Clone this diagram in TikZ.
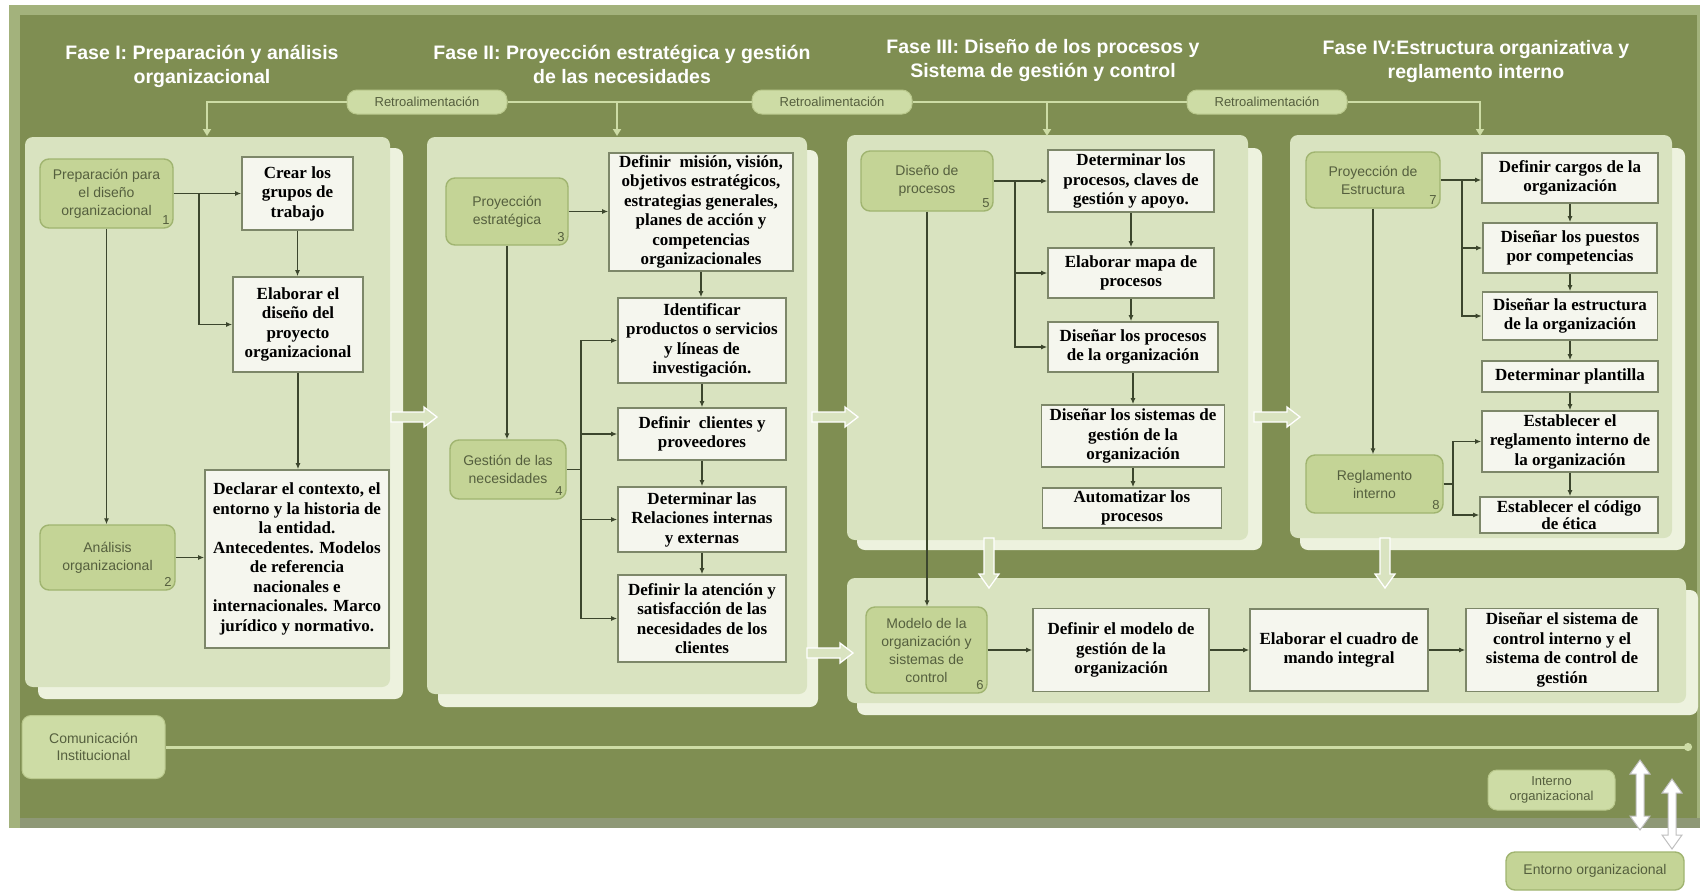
\documentclass[tikz,border=0pt]{standalone}
\usepackage{fontspec}
\setmainfont{Liberation Serif}
\newfontfamily\sansf{Liberation Sans}
\usetikzlibrary{arrows.meta,calc}

\definecolor{frameD}{RGB}{127,142,82}
\definecolor{frameL}{RGB}{163,178,124}
\definecolor{frameB}{RGB}{142,152,118}
\definecolor{panF}{RGB}{217,227,192}
\definecolor{panB}{RGB}{237,242,222}
\definecolor{gnF}{RGB}{196,212,150}
\definecolor{gnD}{RGB}{160,180,112}
\definecolor{wbF}{RGB}{245,246,238}
\definecolor{wbD}{RGB}{125,135,105}
\definecolor{lineC}{RGB}{60,70,45}
\definecolor{fbC}{RGB}{205,220,165}
\definecolor{fbD}{RGB}{185,200,140}
\definecolor{txtG}{RGB}{85,95,62}

\tikzset{
 wbox/.style={draw=wbD, line width=1.6pt, fill=wbF, inner sep=2pt, align=center,
   font=\fontsize{17}{19.5}\selectfont\bfseries},
 gnode/.style={draw=gnD, line width=1.4pt, fill=gnF, rounded corners=9pt, inner sep=2pt,
   align=center, text=txtG, font=\sansf\fontsize{14}{18}\selectfont},
 num/.style={anchor=south east, inner sep=4pt, text=txtG, font=\sansf\fontsize{13}{13}\selectfont},
 conn/.style={draw=lineC, line width=1.3pt, -{Latex[length=6pt,width=5pt]}},
 cline/.style={draw=lineC, line width=1.3pt},
 fb/.style={draw=fbC, line width=2.5pt},
 fbarr/.style={fb, -{Triangle[length=7pt,width=8pt]}},
 pill/.style={fill=fbC, draw=fbD, line width=1pt, rounded corners=10pt, minimum width=160pt,
   minimum height=24pt, inner sep=1pt, text=txtG, font=\sansf\fontsize{13}{13}\selectfont},
 lpill/.style={fill=fbC, draw=fbD, line width=1pt, rounded corners=9pt, inner sep=1pt,
   align=center, text=txtG, font=\sansf\fontsize{14}{17}\selectfont},
 title/.style={text=white, align=center, font=\sansf\bfseries\fontsize{19.5}{24}\selectfont},
 barr/.style={draw=white, line width=1.3pt, fill=panF},
 commline/.style={draw=fbC, line width=3pt, -{Circle[length=8pt]}},
 harr/.pic={\draw[barr] (0,-5) -- (33,-5) -- (33,-10) -- (46,0) -- (33,10) -- (33,5) -- (0,5) -- cycle;},
 varr/.pic={\draw[barr] (-5,0) -- (-5,36) -- (-10,36) -- (0,50) -- (10,36) -- (5,36) -- (5,0) -- cycle;},
 dvarr/.pic={\draw[draw=gray!50, fill=white, line width=1pt] (0,0) -- (-10,14) -- (-4,14) -- (-4,56) -- (-10,56) -- (0,70) -- (10,56) -- (4,56) -- (4,14) -- (10,14) -- cycle;},
}

\begin{document}
\begin{tikzpicture}[x=1pt,y=-1pt]
\useasboundingbox (0,0) rectangle (1706,892);
\fill[white] (0,0) rectangle (1706,892);
% outer frame
\fill[frameL] (9,5) rectangle (1700,828);
\fill[frameD] (20,15) rectangle (1697,818);
\fill[frameB] (20,818) rectangle (1700,828);

% panels
\fill[panB, rounded corners=8pt] (38,148) rectangle (403,699);
\fill[panF, rounded corners=8pt] (25,137) rectangle (390,687);
\fill[panB, rounded corners=8pt] (438,150) rectangle (818,707);
\fill[panF, rounded corners=8pt] (427,137) rectangle (807,694);
\fill[panB, rounded corners=8pt] (857,148) rectangle (1262,550);
\fill[panF, rounded corners=8pt] (847,135) rectangle (1248,540);
\fill[panB, rounded corners=8pt] (1300,148) rectangle (1685,550);
\fill[panF, rounded corners=8pt] (1290,135) rectangle (1672,538);
\fill[panB, rounded corners=8pt] (857,590) rectangle (1698,715);
\fill[panF, rounded corners=8pt] (847,578) rectangle (1686,703);

% titles
\node[title] (ti1) at (202,66) {Fase I: Preparación y análisis\\organizacional};
\node[title] (ti2) at (622,64) {Fase II: Proyección estratégica y gestión\\de las necesidades};
\node[title] (ti3) at (1043,60) {Fase III: Diseño de los procesos y\\Sistema de gestión y control};
\node[title] (ti4) at (1476,61) {Fase IV:Estructura organizativa y\\reglamento interno};

% feedback line
\node[pill] (r1) at (427,102) {Retroalimentación};
\node[pill] (r2) at (832,102) {Retroalimentación};
\node[pill] (r3) at (1267,102) {Retroalimentación};
\coordinate (d1) at (207,136);
\coordinate (j2) at (617,102);
\coordinate (d2) at (617,136);
\coordinate (j3) at (1047,102);
\coordinate (d3) at (1047,136);
\coordinate (d4) at (1480,136);
\draw[fbarr] (r1.west) -| (d1);
\draw[fb] (r1.east) -- (r2.west);
\draw[fb] (r2.east) -- (r3.west);
\draw[fbarr] (j2) -- (d2);
\draw[fbarr] (j3) -- (d3);
\draw[fbarr] (r3.east) -| (d4);

% block arrows between panels
\pic at (391,417) {harr};
\pic at (812,417) {harr};
\pic at (1254,417) {harr};
\pic at (807,653) {harr};
\pic at (989,538) {varr};
\pic at (1385,538) {varr};

% ---------- Fase I ----------
\node[gnode, minimum width=133pt, minimum height=69pt] (g1) at (106.5,193.5) {Preparación para\\el diseño\\organizacional};
\node[num] at (g1.south east) {1};
\node[gnode, minimum width=135pt, minimum height=65pt] (g2) at (107.5,557.5) {Análisis\\organizacional};
\node[num] at (g2.south east) {2};
\node[wbox, minimum width=111pt, minimum height=73pt] (b11) at (297.5,193.5) {Crear los\\grupos de\\trabajo};
\node[wbox, minimum width=130pt, minimum height=95pt] (b12) at (298,324.5) {Elaborar el\\diseño del\\proyecto\\organizacional};
\node[wbox, minimum width=184pt, minimum height=178pt] (b13) at (297,559) {Declarar el contexto, el\\entorno y la historia de\\la entidad.\\Antecedentes. Modelos\\de referencia\\nacionales e\\internacionales. Marco\\jurídico y normativo.};
\coordinate (t1) at (199,193.5);
\draw[conn] (g1.east) -- (b11.west);
\draw[conn] (t1) |- (b12.west);
\draw[conn] (b11.south) -- (b11.south |- b12.north);
\draw[conn] (b12.south) -- (b12.south |- b13.north);
\draw[conn] (g1.south) -- (g1.south |- g2.north);
\draw[conn] (g2.east) -- (g2.east -| b13.west);

% ---------- Fase II ----------
\node[gnode, minimum width=122pt, minimum height=67pt] (g3) at (507,211.5) {Proyección\\estratégica};
\node[num] at (g3.south east) {3};
\node[gnode, minimum width=116pt, minimum height=59pt] (g4) at (508,469.5) {Gestión de las\\necesidades};
\node[num] at (g4.south east) {4};
\node[wbox, minimum width=184pt, minimum height=118pt] (b21) at (701,212) {Definir \ misión, visión,\\objetivos estratégicos,\\estrategias generales,\\planes de acción y\\competencias\\organizacionales};
\node[wbox, minimum width=168pt, minimum height=85pt] (b22) at (702,340.5) {Identificar\\productos o servicios\\y líneas de\\investigación.};
\node[wbox, minimum width=168pt, minimum height=52pt] (b23) at (702,434) {Definir \ clientes y\\proveedores};
\node[wbox, minimum width=168pt, minimum height=65pt] (b24) at (702,519.5) {Determinar las\\Relaciones internas\\y externas};
\node[wbox, minimum width=168pt, minimum height=87pt] (b25) at (702,618.5) {Definir la atención y\\satisfacción de las\\necesidades de los\\clientes};
\draw[conn] (g3.east) -- (g3.east -| b21.west);
\draw[conn] (g3.south) -- (g3.south |- g4.north);
\coordinate (t2) at (581,469.5);
\draw[cline] (g4.east) -- (t2);
\draw[conn] (t2) |- (b22.west);
\draw[conn] (t2) |- (b23.west);
\draw[conn] (t2) |- (b24.west);
\draw[conn] (t2) |- (b25.west);
\draw[conn] (b21.south) -- (b21.south |- b22.north);
\draw[conn] (b22.south) -- (b22.south |- b23.north);
\draw[conn] (b23.south) -- (b23.south |- b24.north);
\draw[conn] (b24.south) -- (b24.south |- b25.north);

% ---------- Fase III ----------
\node[gnode, minimum width=132pt, minimum height=60pt] (g5) at (927,181) {Diseño de\\procesos};
\node[num] at (g5.south east) {5};
\node[wbox, minimum width=166pt, minimum height=62pt] (b31) at (1131,181) {Determinar los\\procesos, claves de\\gestión y apoyo.};
\node[wbox, minimum width=166pt, minimum height=50pt] (b32) at (1131,273) {Elaborar mapa de\\procesos};
\node[wbox, minimum width=170pt, minimum height=50pt] (b33) at (1133,347) {Diseñar los procesos\\de la organización};
\node[wbox, minimum width=183pt, minimum height=62pt] (b34) at (1133,436) {Diseñar los sistemas de\\gestión de la\\organización};
\node[wbox, minimum width=179pt, minimum height=40pt] (b35) at (1132,508) {Automatizar los\\procesos};
\draw[conn] (g5.east) -- (b31.west);
\coordinate (t3) at (1015,181);
\draw[conn] (t3) |- (b32.west);
\draw[conn] (t3) |- (b33.west);
\draw[conn] (b31.south) -- (b31.south |- b32.north);
\draw[conn] (b32.south) -- (b32.south |- b33.north);
\draw[conn] (b33.south) -- (b33.south |- b34.north);
\draw[conn] (b34.south) -- (b34.south |- b35.north);

% ---------- Bottom panel ----------
\node[gnode, minimum width=121pt, minimum height=86pt] (g6) at (926.5,650) {Modelo de la\\organización y\\sistemas de\\control};
\node[num] at (g6.south east) {6};
\node[wbox, minimum width=176pt, minimum height=83pt] (b41) at (1121,650) {Definir el modelo de\\gestión de la\\organización};
\node[wbox, minimum width=178pt, minimum height=82pt] (b42) at (1339,650) {Elaborar el cuadro de\\mando integral};
\node[wbox, minimum width=192pt, minimum height=83pt] (b43) at (1562,650) {Diseñar el sistema de\\control interno y el\\sistema de control de\\gestión};
\draw[conn] (g5.south) -- (g5.south |- g6.north);
\draw[conn] (g6.east) -- (b41.west);
\draw[conn] (b41.east) -- (b42.west);
\draw[conn] (b42.east) -- (b43.west);

% ---------- Fase IV ----------
\node[gnode, minimum width=134pt, minimum height=56pt] (g7) at (1373,180) {Proyección de\\Estructura};
\node[num] at (g7.south east) {7};
\node[gnode, minimum width=137pt, minimum height=58pt] (g8) at (1374.5,484) {Reglamento\\interno};
\node[num] at (g8.south east) {8};
\node[wbox, minimum width=176pt, minimum height=50pt] (b51) at (1570,178) {Definir cargos de la\\organización};
\node[wbox, minimum width=174pt, minimum height=50pt] (b52) at (1570,248) {Diseñar los puestos\\por competencias};
\node[wbox, minimum width=175pt, minimum height=48pt] (b53) at (1570,316) {Diseñar la estructura\\de la organización};
\node[wbox, minimum width=176pt, minimum height=31pt] (b54) at (1570,376.5) {Determinar plantilla};
\node[wbox, minimum width=176pt, minimum height=61pt] (b55) at (1570,441.5) {Establecer el\\reglamento interno de\\la organización};
\node[wbox, minimum width=178pt, minimum height=36pt, font=\fontsize{17}{17}\selectfont\bfseries, inner sep=1pt] (b56) at (1569,515) {Establecer el código\\de ética};
\draw[conn] (g7.east) -- (g7.east -| b51.west);
\coordinate (t4) at (1462,180);
\draw[conn] (t4) |- (b52.west);
\draw[conn] (t4) |- (b53.west);
\draw[conn] (b51.south) -- (b51.south |- b52.north);
\draw[conn] (b52.south) -- (b52.south |- b53.north);
\draw[conn] (b53.south) -- (b53.south |- b54.north);
\draw[conn] (b54.south) -- (b54.south |- b55.north);
\draw[conn] (b55.south) -- (b55.south |- b56.north);
\draw[conn] (g7.south) -- (g7.south |- g8.north);
\coordinate (t5) at (1453,484);
\draw[cline] (g8.east) -- (t5);
\draw[conn] (t5) |- (b55.west);
\draw[conn] (t5) |- (b56.west);

% ---------- bottom strip ----------
\node[lpill, minimum width=143pt, minimum height=63pt] (ci) at (93.5,747) {Comunicación\\Institucional};
\coordinate (ce) at (1692,747);
\draw[commline] (ci.east) -- (ce);
\node[lpill, minimum width=127pt, minimum height=40pt, font=\sansf\fontsize{13}{15}\selectfont] (io) at (1551.5,790) {Interno\\organizacional};
\node[lpill, fill=gnF, draw=gnD, line width=1.4pt, minimum width=178pt, minimum height=38pt] (eo) at (1595,871) {Entorno organizacional};
\pic at (1640,760) {dvarr};
\pic at (1672,779) {dvarr};
\end{tikzpicture}
\end{document}
